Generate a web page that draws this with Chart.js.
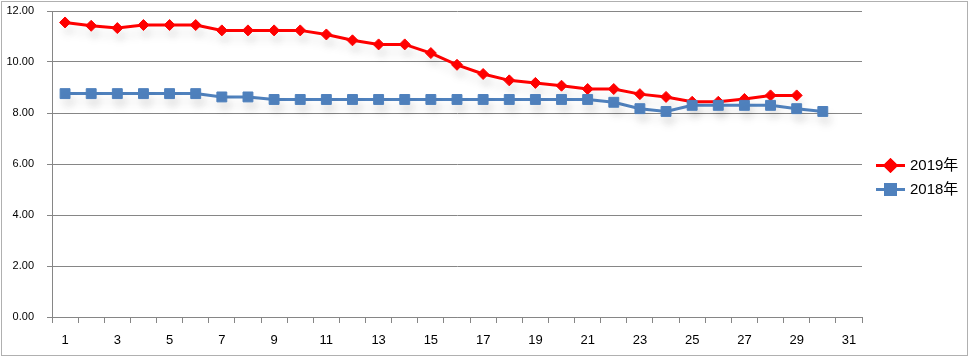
<!DOCTYPE html>
<html>
<head>
<meta charset="utf-8">
<script src="https://cdn.jsdelivr.net/npm/chart.js@4/dist/chart.umd.min.js"></script>
<style>
html,body{margin:0;padding:0;background:#fff;}
#wrap{width:974px;height:358px;position:relative;}
</style>
</head>
<body>
<div id="wrap"><canvas id="c" width="974" height="358"></canvas></div>
<script>
const days = ['1','2','3','4','5','6','7','8','9','10','11','12','13','14','15','16','17','18','19','20','21','22','23','24','25','26','27','28','29','30','31'];
const series2019Name = '2019年';
const series2018Name = '2018年';
const values2019 = [11.55,11.42,11.33,11.45,11.45,11.45,11.24,11.24,11.24,11.24,11.08,10.85,10.69,10.69,10.35,9.89,9.53,9.28,9.18,9.07,8.94,8.94,8.74,8.63,8.44,8.44,8.55,8.69,8.69];
const values2018 = [8.76,8.76,8.76,8.76,8.76,8.76,8.63,8.63,8.53,8.53,8.53,8.53,8.53,8.53,8.53,8.53,8.53,8.53,8.53,8.53,8.53,8.42,8.17,8.06,8.30,8.30,8.30,8.30,8.17,8.06];
const yTicks = [0,2,4,6,8,10,12];

const RED = '#FF0000';
const BLUE = '#4F81BD';
const GRID = '#868686';
const FONT = '"Liberation Sans Narrow","Liberation Sans",Arial,sans-serif';
const LFONT = '"Liberation Sans","Noto Sans CJK SC",sans-serif';

const shadowPlugin = {
  id: 'shadow',
  beforeDatasetsDraw(chart) {
    const ctx = chart.ctx;
    ctx.save();
    ctx.shadowColor = 'rgba(0,0,0,0.10)';
    ctx.shadowBlur = 10;
    ctx.shadowOffsetX = 3;
    ctx.shadowOffsetY = 8;
  },
  afterDatasetsDraw(chart) {
    chart.ctx.restore();
  }
};

const legendPlugin = {
  id: 'manualLegend',
  afterDraw(chart) {
    const ctx = chart.ctx;
    const items = [
      {ds: chart.data.datasets[0], y: 165.5},
      {ds: chart.data.datasets[1], y: 189.5}
    ];
    ctx.save();
    items.forEach(it => {
      const x0 = 876, x1 = 905, cx = (x0 + x1) / 2;
      ctx.strokeStyle = it.ds.borderColor;
      ctx.lineWidth = 3;
      ctx.beginPath();
      ctx.moveTo(x0, it.y);
      ctx.lineTo(x1, it.y);
      ctx.stroke();
      Chart.helpers.drawPoint(ctx, {pointStyle: it.ds.pointStyle, radius: it.ds.pointRadius, borderWidth: 1, rotation: 0}, cx, it.y);
      ctx.fillStyle = it.ds.pointBackgroundColor;
      ctx.strokeStyle = it.ds.pointBorderColor;
      ctx.fill();
      ctx.stroke();
      ctx.fillStyle = '#000';
      ctx.font = '15px ' + LFONT;
      ctx.textBaseline = 'middle';
      ctx.textAlign = 'left';
      ctx.fillText(it.ds.label, 910, it.y + 0.5);
    });
    ctx.strokeStyle = '#b0b0b0';
    ctx.lineWidth = 1;
    ctx.strokeRect(1.5, 1.5, 966, 354);
    ctx.restore();
  }
};

new Chart(document.getElementById('c'), {
  type: 'line',
  data: {
    labels: days,
    datasets: [
      {
        label: series2019Name,
        data: values2019,
        borderColor: RED,
        backgroundColor: RED,
        pointBackgroundColor: RED,
        pointBorderColor: RED,
        borderWidth: 3,
        pointStyle: 'rectRot',
        pointRadius: 5.5,
        pointBorderWidth: 1,
        tension: 0,
        fill: false,
        order: 1
      },
      {
        label: series2018Name,
        data: values2018,
        borderColor: BLUE,
        backgroundColor: BLUE,
        pointBackgroundColor: BLUE,
        pointBorderColor: BLUE,
        borderWidth: 3,
        pointStyle: 'rect',
        pointRadius: 7,
        pointBorderWidth: 1,
        tension: 0,
        fill: false,
        order: 0
      }
    ]
  },
  options: {
    responsive: false,
    animation: false,
    devicePixelRatio: 1,
    layout: {padding: {left: 0, right: 112, top: 11, bottom: 0}},
    plugins: {
      legend: {display: false},
      tooltip: {enabled: false}
    },
    scales: {
      x: {
        type: 'category',
        offset: true,
        grid: {
          offset: true,
          drawOnChartArea: false,
          drawTicks: true,
          tickLength: 6,
          color: GRID
        },
        border: {display: true, color: GRID, width: 1},
        ticks: {
          autoSkip: false,
          maxRotation: 0,
          padding: 10,
          color: '#000',
          font: {family: FONT, size: 13},
          callback: function(v, i) { return i % 2 === 0 ? days[i] : ''; }
        },
        afterFit(scale) { scale.height = 41; scale.paddingLeft = 0; scale.paddingRight = 0; }
      },
      y: {
        min: 0,
        max: 12,
        afterBuildTicks(scale) { scale.ticks = yTicks.map(v => ({value: v})); },
        grid: {
          color: GRID,
          tickLength: 5,
          drawTicks: true
        },
        border: {display: true, color: GRID, width: 1},
        ticks: {
          padding: 13,
          color: '#000',
          font: {family: FONT, size: 11},
          callback: v => Number(v).toFixed(2)
        },
        afterFit(scale) { scale.width = 52; scale.paddingTop = 0; scale.paddingBottom = 0; }
      }
    }
  },
  plugins: [shadowPlugin, legendPlugin]
});
</script>
</body>
</html>
